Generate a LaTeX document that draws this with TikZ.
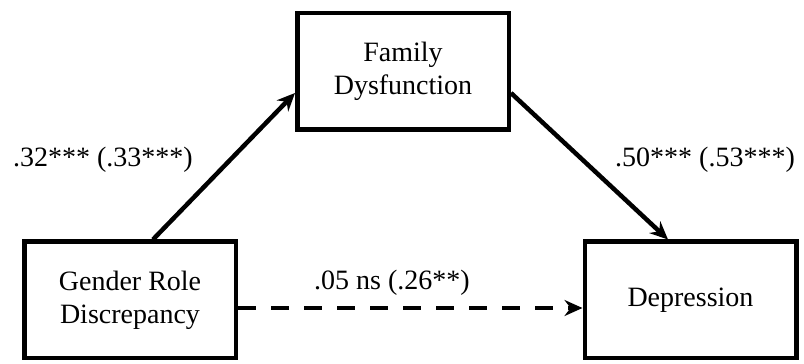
\documentclass[tikz,border=0pt]{standalone}
\usepackage{fontspec}
\setmainfont{Liberation Serif}
\usetikzlibrary{arrows.meta}
\tikzset{
	varbox/.style={draw, line width=4.5pt, minimum width=211.5pt, minimum height=116.5pt, align=center},
	path/.style={line width=4.5pt, ->},
	coef/.style={anchor=base}
}
\begin{document}
\begin{tikzpicture}[x=1pt, y=1pt, font=\fontsize{28}{33}\selectfont, line join=miter, >={Stealth[length=18pt, width=16pt, inset=6pt]}]
	\useasboundingbox (0,0) rectangle (804,364);
	\node[varbox] (grd) at (130,64) {Gender Role\\Discrepancy};
	\node[varbox] (fam) at (403,292.5) {Family\\Dysfunction};
	\node[varbox] (dep) at (690.5,64) {Depression};
	\draw[path]
	([xshift=23pt]grd.north)--([yshift=-21.5pt]fam.west)
	;
	\draw[path]
	([yshift=-21.5pt]fam.east)--([xshift=-22.5pt]dep.north)
	;
	\draw[path, dash pattern=on 18pt off 15pt]
	([yshift=-8pt]grd.east)--([yshift=-8pt]dep.west)
	;
	\node[coef] (a) at (103,197) {.32*** (.33***)};
	\node[coef] (b) at (705,197) {.50*** (.53***)};
	\node[coef] (c) at (392,74) {.05 ns (.26**)};
\end{tikzpicture}
\end{document}
